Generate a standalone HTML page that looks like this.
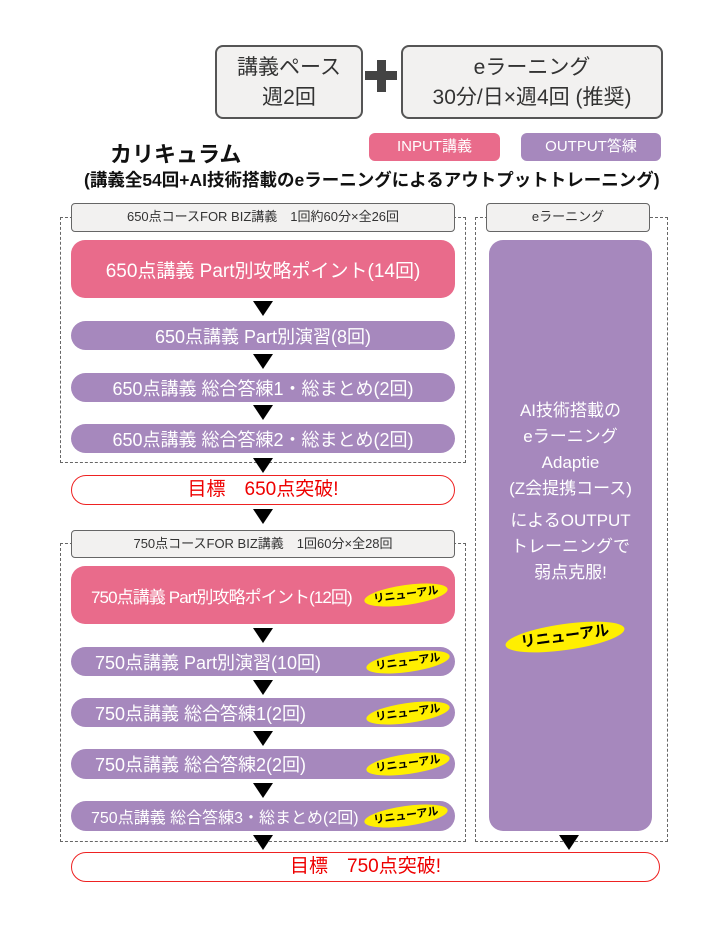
<!DOCTYPE html>
<html><head><meta charset="utf-8"><style>
*{margin:0;padding:0;box-sizing:border-box}
body{width:720px;height:934px;background:#fff;position:relative;overflow:hidden;font-family:"Liberation Sans","Noto Sans CJK JP",sans-serif}
.a{position:absolute}
.gb{position:absolute;background:#f2f1f0;border:2px solid #555;border-radius:8px;text-align:center;color:#333}
.lab{position:absolute;background:#f2f1f0;border:1.5px solid #666;border-radius:4px;text-align:center;color:#333;font-size:13px;line-height:26px}
.dash{position:absolute;border:1.3px dashed #666}
.pk{position:absolute;background:#e96b8b;border-radius:14px;color:#fff;display:flex;align-items:center;justify-content:center}
.pu{position:absolute;background:#a688bd;border-radius:15px;color:#fff;display:flex;align-items:center;justify-content:center;font-size:18px}
.ar{position:absolute;width:0;height:0;border-left:10px solid transparent;border-right:10px solid transparent;border-top:15px solid #000}
.goal{position:absolute;border:1.5px solid #e22;border-radius:15px;color:#e00;text-align:center;font-size:19px;background:#fff}
.bd{position:absolute;width:84px;height:20px;background:#ffef00;border-radius:50%;transform:rotate(-8deg);color:#000;font-size:11px;font-weight:bold;text-align:center;line-height:20px}
</style></head><body>
<div class="gb" style="left:215px;top:45px;width:148px;height:74px;font-size:21px;line-height:30px;padding-top:6px">講義ペース<br>週2回</div>
<div class="a" style="left:365px;top:71px;width:32px;height:9px;background:#444"></div>
<div class="a" style="left:377px;top:60px;width:9px;height:32px;background:#444"></div>
<div class="gb" style="left:401px;top:45px;width:262px;height:74px;font-size:21px;line-height:30px;padding-top:6px">eラーニング<br>30分/日×週4回 (推奨)</div>
<div class="a" style="left:369px;top:133px;width:131px;height:28px;background:#e96b8b;border-radius:6px;color:#fff;font-size:15px;text-align:center;line-height:28px">INPUT講義</div>
<div class="a" style="left:521px;top:133px;width:140px;height:28px;background:#a688bd;border-radius:6px;color:#fff;font-size:15px;text-align:center;line-height:28px">OUTPUT答練</div>
<div class="a" style="left:110px;top:137px;font-size:22px;font-weight:bold;color:#111">カリキュラム</div>
<div class="a" style="left:84px;top:167px;font-size:17.5px;font-weight:bold;color:#111;white-space:nowrap">(講義全54回+AI技術搭載のeラーニングによるアウトプットトレーニング)</div>

<div class="dash" style="left:60px;top:217px;width:406px;height:246px"></div>
<div class="lab" style="left:71px;top:203px;width:384px;height:29px">650点コースFOR BIZ講義　1回約60分×全26回</div>
<div class="pk" style="left:71px;top:240px;width:384px;height:58px;font-size:19px">650点講義 Part別攻略ポイント(14回)</div>
<div class="ar" style="left:253px;top:301px"></div>
<div class="pu" style="left:71px;top:321px;width:384px;height:29px">650点講義 Part別演習(8回)</div>
<div class="ar" style="left:253px;top:354px"></div>
<div class="pu" style="left:71px;top:373px;width:384px;height:29px">650点講義 総合答練1・総まとめ(2回)</div>
<div class="ar" style="left:253px;top:405px"></div>
<div class="pu" style="left:71px;top:424px;width:384px;height:29px">650点講義 総合答練2・総まとめ(2回)</div>
<div class="ar" style="left:253px;top:458px"></div>
<div class="goal" style="left:71px;top:475px;width:384px;height:30px;line-height:27px">目標　650点突破!</div>
<div class="ar" style="left:253px;top:509px"></div>

<div class="dash" style="left:60px;top:543px;width:406px;height:299px"></div>
<div class="lab" style="left:71px;top:530px;width:384px;height:28px">750点コースFOR BIZ講義　1回60分×全28回</div>
<div class="pk" style="left:71px;top:566px;width:384px;height:58px;font-size:17px;letter-spacing:-0.9px;justify-content:flex-start;padding-left:20px">750点講義 Part別攻略ポイント(12回)</div>
<div class="bd" style="left:364px;top:585px">リニューアル</div>
<div class="ar" style="left:253px;top:628px"></div>
<div class="pu" style="left:71px;top:647px;width:384px;height:29px;justify-content:flex-start;padding-left:24px">750点講義 Part別演習(10回)</div>
<div class="bd" style="left:366px;top:652px">リニューアル</div>
<div class="ar" style="left:253px;top:680px"></div>
<div class="pu" style="left:71px;top:698px;width:384px;height:29px;justify-content:flex-start;padding-left:24px">750点講義 総合答練1(2回)</div>
<div class="bd" style="left:366px;top:703px">リニューアル</div>
<div class="ar" style="left:253px;top:731px"></div>
<div class="pu" style="left:71px;top:749px;width:384px;height:30px;justify-content:flex-start;padding-left:24px">750点講義 総合答練2(2回)</div>
<div class="bd" style="left:366px;top:754px">リニューアル</div>
<div class="ar" style="left:253px;top:783px"></div>
<div class="pu" style="left:71px;top:801px;width:384px;height:30px;font-size:16px;justify-content:flex-start;padding-left:20px">750点講義 総合答練3・総まとめ(2回)</div>
<div class="bd" style="left:364px;top:806px">リニューアル</div>
<div class="ar" style="left:253px;top:835px"></div>

<div class="dash" style="left:475px;top:217px;width:193px;height:625px"></div>
<div class="lab" style="left:486px;top:203px;width:164px;height:29px">eラーニング</div>
<div class="a" style="left:489px;top:240px;width:163px;height:591px;background:#a688bd;border-radius:14px;color:#fff;text-align:center;font-size:17px;line-height:26px;padding-top:158px">AI技術搭載の<br>eラーニング<br>Adaptie<br>(Z会提携コース)<div style="height:6px"></div>によるOUTPUT<br>トレーニングで<br>弱点克服!</div>
<div class="bd" style="left:505px;top:624px;width:120px;height:26px;line-height:26px;font-size:15px">リニューアル</div>
<div class="ar" style="left:559px;top:835px"></div>

<div class="goal" style="left:71px;top:852px;width:589px;height:30px;line-height:27px">目標　750点突破!</div>
</body></html>
